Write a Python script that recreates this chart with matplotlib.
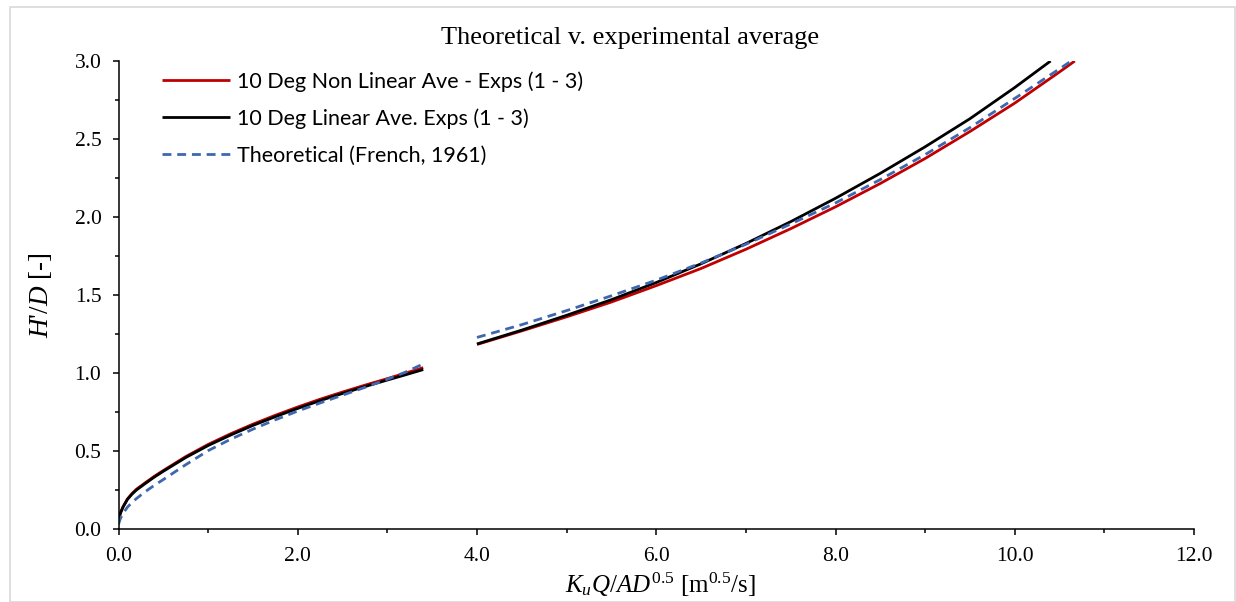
import matplotlib
matplotlib.use("Agg")
import matplotlib.pyplot as plt
from matplotlib.patches import Rectangle
from matplotlib.ticker import MultipleLocator, FixedLocator

plt.rcParams['mathtext.fontset'] = 'custom'
plt.rcParams['mathtext.rm'] = 'Liberation Serif'
plt.rcParams['mathtext.it'] = 'Liberation Serif:italic'
plt.rcParams['mathtext.bf'] = 'Liberation Serif:bold'

# ---- data ----
# segment 1 (low range)
x_seg1 = [0.0, 0.02, 0.05, 0.1, 0.15, 0.2, 0.3, 0.4, 0.5, 0.75, 1.0, 1.25, 1.5, 1.75, 2.0, 2.25, 2.5, 2.75, 3.0, 3.2, 3.4]
nonlinear_seg1 = [0.05, 0.10, 0.142, 0.193, 0.227, 0.255, 0.297, 0.338, 0.375, 0.464, 0.542, 0.61, 0.672, 0.729, 0.782, 0.832, 0.878, 0.922, 0.964, 0.999, 1.034]
linear_seg1 = [0.05, 0.10, 0.14, 0.19, 0.223, 0.25, 0.292, 0.333, 0.37, 0.458, 0.535, 0.602, 0.664, 0.72, 0.773, 0.823, 0.869, 0.913, 0.955, 0.988, 1.022]
theory_seg1 = [0.03, 0.065, 0.10, 0.14, 0.17, 0.195, 0.24, 0.28, 0.317, 0.412, 0.502, 0.575, 0.64, 0.70, 0.756, 0.808, 0.858, 0.908, 0.96, 1.005, 1.058]

# segment 2 (high range)
x_lin2 = [4.0, 4.5, 5.0, 5.5, 6.0, 6.5, 7.0, 7.5, 8.0, 8.5, 9.0, 9.5, 10.0, 10.4]
linear_seg2 = [1.186, 1.275, 1.37, 1.47, 1.58, 1.70, 1.83, 1.97, 2.12, 2.28, 2.45, 2.63, 2.83, 3.0]
x_non2 = [4.0, 4.5, 5.0, 5.5, 6.0, 6.5, 7.0, 7.5, 8.0, 8.5, 9.0, 9.5, 10.0, 10.5, 10.67]
nonlinear_seg2 = [1.183, 1.27, 1.36, 1.455, 1.56, 1.67, 1.793, 1.925, 2.065, 2.215, 2.375, 2.548, 2.73, 2.93, 3.0]
x_th2 = [4.0, 4.5, 5.0, 5.5, 6.0, 6.5, 7.0, 7.5, 8.0, 8.5, 9.0, 9.5, 10.0, 10.5, 10.63]
theory_seg2 = [1.228, 1.31, 1.40, 1.495, 1.595, 1.705, 1.825, 1.955, 2.09, 2.24, 2.40, 2.573, 2.76, 2.95, 3.0]

labels = ["10 Deg Non Linear Ave - Exps (1 - 3)",
          "10 Deg Linear Ave. Exps (1 - 3)",
          "Theoretical (French, 1961)"]
colors = ["#C00000", "#000000", "#3F67AF"]

x_ticks = [0, 2, 4, 6, 8, 10, 12]
x_ticklabels = ["0.0", "2.0", "4.0", "6.0", "8.0", "10.0", "12.0"]
y_ticks = [0, 0.5, 1.0, 1.5, 2.0, 2.5, 3.0]
y_ticklabels = ["0.0", "0.5", "1.0", "1.5", "2.0", "2.5", "3.0"]

title = "Theoretical v. experimental average"

# ---- figure ----
W, H = 1236, 602
fig = plt.figure(figsize=(W / 100, H / 100), dpi=100)
ax = fig.add_axes([118.5 / W, 1 - 529 / H, (1194 - 118.5) / W, (529 - 61) / H])

lw = 2.0
dash = (3.2, 2.1)
ax.plot(x_seg1, nonlinear_seg1, color=colors[0], lw=lw, label=labels[0], solid_capstyle='butt')
ax.plot(x_seg1, linear_seg1, color=colors[1], lw=lw, label=labels[1], solid_capstyle='butt')
ax.plot(x_seg1, theory_seg1, color=colors[2], lw=lw, dashes=dash, label=labels[2])
ax.plot(x_non2, nonlinear_seg2, color=colors[0], lw=lw, solid_capstyle='butt')
ax.plot(x_lin2, linear_seg2, color=colors[1], lw=lw, solid_capstyle='butt')
ax.plot(x_th2, theory_seg2, color=colors[2], lw=lw, dashes=dash)

ax.set_xlim(0, 12)
ax.set_ylim(0, 3.0)
ax.xaxis.set_major_locator(FixedLocator(x_ticks))
ax.set_xticklabels(x_ticklabels)
ax.yaxis.set_major_locator(FixedLocator(y_ticks))
ax.set_yticklabels(y_ticklabels)
ax.xaxis.set_minor_locator(MultipleLocator(1.0))
ax.yaxis.set_minor_locator(MultipleLocator(0.25))

for s in ['top', 'right']:
    ax.spines[s].set_visible(False)
for s in ['left', 'bottom']:
    ax.spines[s].set_linewidth(1.1)
    ax.spines[s].set_color('black')

ax.tick_params(which='both', direction='out', width=1.1, colors='black')
ax.tick_params(which='major', length=4.3)
ax.tick_params(axis='x', which='major', pad=9)
ax.tick_params(axis='y', which='major', pad=8)
ax.tick_params(which='minor', length=3.2)
for t in ax.get_xticklabels() + ax.get_yticklabels():
    t.set_fontfamily('Liberation Serif')
    t.set_fontsize(15.5)

ax.set_xlabel(r'$K_uQ/AD^{0.5}$ [m$^{0.5}$/s]', fontsize=18, family='Liberation Serif', labelpad=2)
ax.xaxis.set_label_coords(0.504, -0.09)
ax.set_ylabel(r"$H$'$/D$ [-]", fontsize=19.5, family='Liberation Serif')
ax.yaxis.set_label_coords((54 - 118.5) / (1194 - 118.5), 0.5)

fig.text(630 / W, 1 - 38 / H, title, ha='center', va='center', fontsize=19, family='Liberation Serif')

leg = ax.legend(loc='upper left', bbox_to_anchor=(162 / W, 1 - 71 / H), bbox_transform=fig.transFigure,
                frameon=False, borderpad=0, borderaxespad=0,
                prop={'family': 'Lato', 'size': 15.5}, handlelength=3.15, handletextpad=0.33,
                labelspacing=0.78)

fig.patches.append(Rectangle((10 / W, 0), 1 - 11 / W, 1 - 7 / H, transform=fig.transFigure,
                             fill=False, edgecolor='#d9d9d9', lw=1.2))

fig.savefig("out.png", dpi=100)
